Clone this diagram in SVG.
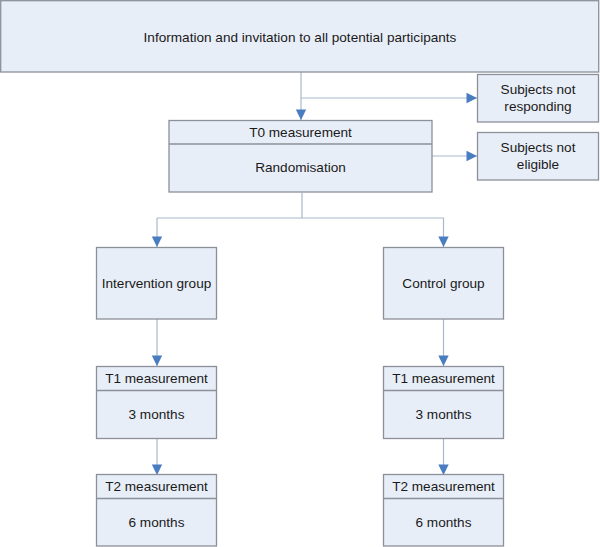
<svg xmlns="http://www.w3.org/2000/svg" width="600" height="547" viewBox="0 0 600 547">
<style>
.box{fill:#e8eef8;stroke:#8c9099;stroke-width:1.3}
.div{stroke:#8c9099;stroke-width:1.3}
.t{font-family:"Liberation Sans",Arial,sans-serif;font-size:13.6px;fill:#1a1a1a;text-anchor:middle}
.c{fill:none;stroke:#a8b9cc;stroke-width:1.2}
</style>
<defs>
<marker id="a" markerUnits="userSpaceOnUse" markerWidth="12" markerHeight="12" viewBox="0 0 12 12" refX="11" refY="6" orient="auto">
<path d="M0.5,0.8 L11,6 L0.5,11.2 Z" fill="#4a7dbf"/>
</marker>
</defs>
<rect width="600" height="547" fill="#ffffff"/>
<g id="connectors">
<path class="c" d="M301,72 V120" marker-end="url(#a)"/>
<path class="c" d="M301,98 H477" marker-end="url(#a)"/>
<path class="c" d="M432,156 H477" marker-end="url(#a)"/>
<path class="c" d="M302,193 V218 H157"/>
<path class="c" d="M157,218 V247" marker-end="url(#a)"/>
<path class="c" d="M302,218 H443.5 V247" marker-end="url(#a)"/>
<path class="c" d="M157,319 V366" marker-end="url(#a)"/>
<path class="c" d="M443.5,319 V366" marker-end="url(#a)"/>
<path class="c" d="M157,439 V475" marker-end="url(#a)"/>
<path class="c" d="M443.5,439 V475" marker-end="url(#a)"/>
</g>
<g id="info">
<rect class="box" x="0.7" y="0.7" width="598" height="71.3"/>
<text class="t" x="300" y="42">Information and invitation to all potential participants</text>
</g>
<g id="not-responding">
<rect class="box" x="477.5" y="74.5" width="121" height="47.5"/>
<text class="t" x="538" y="94">Subjects not</text>
<text class="t" x="538" y="111">responding</text>
</g>
<g id="t0">
<rect class="box" x="169" y="120.5" width="263" height="71.5"/>
<line class="div" x1="169" y1="144" x2="432" y2="144"/>
<text class="t" x="300.5" y="137">T0 measurement</text>
<text class="t" x="300.5" y="172">Randomisation</text>
</g>
<g id="not-eligible">
<rect class="box" x="477.5" y="132.5" width="121" height="47.5"/>
<text class="t" x="538" y="152">Subjects not</text>
<text class="t" x="538" y="169">eligible</text>
</g>
<g id="intervention">
<rect class="box" x="96.5" y="247.5" width="120" height="71.5"/>
<text class="t" x="156.5" y="287.5">Intervention group</text>
</g>
<g id="control">
<rect class="box" x="383.5" y="247.5" width="120" height="71.5"/>
<text class="t" x="443.5" y="287.5">Control group</text>
</g>
<g id="t1-int">
<rect class="box" x="96.5" y="366.5" width="120" height="72"/>
<line class="div" x1="96.5" y1="390.5" x2="216.5" y2="390.5"/>
<text class="t" x="156.5" y="383">T1 measurement</text>
<text class="t" x="156.5" y="419">3 months</text>
</g>
<g id="t1-ctl">
<rect class="box" x="383.5" y="366.5" width="120" height="72"/>
<line class="div" x1="383.5" y1="390.5" x2="503.5" y2="390.5"/>
<text class="t" x="443.5" y="383">T1 measurement</text>
<text class="t" x="443.5" y="419">3 months</text>
</g>
<g id="t2-int">
<rect class="box" x="96.5" y="474.5" width="120" height="71.5"/>
<line class="div" x1="96.5" y1="498.5" x2="216.5" y2="498.5"/>
<text class="t" x="156.5" y="491">T2 measurement</text>
<text class="t" x="156.5" y="527">6 months</text>
</g>
<g id="t2-ctl">
<rect class="box" x="383.5" y="474.5" width="120" height="71.5"/>
<line class="div" x1="383.5" y1="498.5" x2="503.5" y2="498.5"/>
<text class="t" x="443.5" y="491">T2 measurement</text>
<text class="t" x="443.5" y="527">6 months</text>
</g>
</svg>
